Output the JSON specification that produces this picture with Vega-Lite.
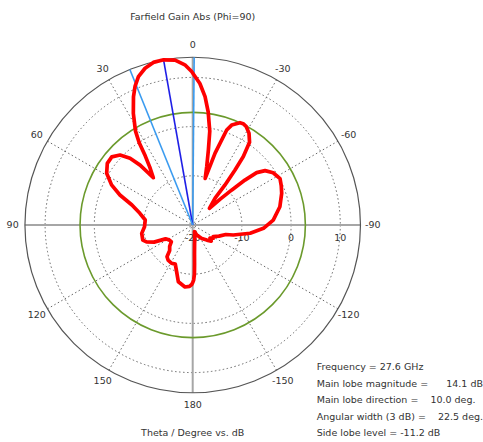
{
  "$schema": "https://vega.github.io/schema/vega-lite/v6.json",
  "width": 483,
  "height": 412,
  "autosize": {"type": "none"},
  "padding": {"top": 30, "left": 0, "right": 0, "bottom": 0},
  "background": "white",
  "title": {"text": "Farfield Gain Abs (Phi=90)", "font": "DejaVu Sans", "fontSize": 9.5, "fontWeight": "normal", "color": "#333333", "anchor": "middle", "dx": -48.8, "offset": 9},
  "config": {"view": {"stroke": null}, "text": {"font": "DejaVu Sans", "fontSize": 9.5, "color": "#333333"}},
  "layer": [
    {
      "data": {"values": [{"db": -10}, {"db": 0}, {"db": 10}]},
      "transform": [{"calculate": "datum.db+20", "as": "r"}],
      "mark": {"type": "point", "shape": "circle", "filled": false, "stroke": "#666666", "strokeWidth": 1, "strokeDash": [1.5, 2.5], "opacity": 1},
      "encoding": {
        "x": {"datum": 0, "type": "quantitative", "scale": {"domain": [-39.167, 59.004], "nice": false, "zero": false}, "axis": null},
        "y": {"datum": 0, "type": "quantitative", "scale": {"domain": [-44.106, 39.634], "nice": false, "zero": false}, "axis": null},
        "size": {"field": "r", "type": "quantitative", "scale": {"type": "pow", "exponent": 2, "domain": [0, 34.1], "range": [0, 112588], "zero": true, "nice": false}, "legend": null}
      }
    },
    {
      "data": {"values": [{"angle": 30}, {"angle": 60}, {"angle": 120}, {"angle": 150}, {"angle": -30}, {"angle": -60}, {"angle": -120}, {"angle": -150}]},
      "transform": [
        {"calculate": "-34.1*sin(datum.angle*PI/180)", "as": "ex"},
        {"calculate": "34.1*cos(datum.angle*PI/180)", "as": "ey"}
      ],
      "mark": {"type": "rule", "stroke": "#666666", "strokeWidth": 1, "strokeDash": [1.5, 2.5]},
      "encoding": {
        "x": {"field": "ex", "type": "quantitative", "scale": {"domain": [-39.167, 59.004], "nice": false, "zero": false}, "axis": null},
        "y": {"field": "ey", "type": "quantitative", "scale": {"domain": [-44.106, 39.634], "nice": false, "zero": false}, "axis": null},
        "x2": {"datum": 0},
        "y2": {"datum": 0}
      }
    },
    {
      "data": {"values": [{"angle": 0}, {"angle": 90}, {"angle": 180}, {"angle": -90}]},
      "transform": [
        {"calculate": "-34.1*sin(datum.angle*PI/180)", "as": "ex"},
        {"calculate": "34.1*cos(datum.angle*PI/180)", "as": "ey"}
      ],
      "mark": {"type": "rule", "stroke": "#a6a6a6", "strokeWidth": 2},
      "encoding": {
        "x": {"field": "ex", "type": "quantitative", "scale": {"domain": [-39.167, 59.004], "nice": false, "zero": false}, "axis": null},
        "y": {"field": "ey", "type": "quantitative", "scale": {"domain": [-44.106, 39.634], "nice": false, "zero": false}, "axis": null},
        "x2": {"datum": 0},
        "y2": {"datum": 0}
      }
    },
    {
      "data": {"values": [{"db": 14.1}]},
      "transform": [{"calculate": "datum.db+20", "as": "r"}],
      "mark": {"type": "point", "shape": "circle", "filled": false, "stroke": "#555555", "strokeWidth": 1.2, "opacity": 1},
      "encoding": {
        "x": {"datum": 0, "type": "quantitative", "scale": {"domain": [-39.167, 59.004], "nice": false, "zero": false}, "axis": null},
        "y": {"datum": 0, "type": "quantitative", "scale": {"domain": [-44.106, 39.634], "nice": false, "zero": false}, "axis": null},
        "size": {"field": "r", "type": "quantitative", "scale": {"type": "pow", "exponent": 2, "domain": [0, 34.1], "range": [0, 112588], "zero": true, "nice": false}, "legend": null}
      }
    },
    {
      "data": {"values": [{"db": 2.9}]},
      "transform": [{"calculate": "datum.db+20", "as": "r"}],
      "mark": {"type": "point", "shape": "circle", "filled": false, "stroke": "#6b9a2c", "strokeWidth": 1.6, "opacity": 1},
      "encoding": {
        "x": {"datum": 0, "type": "quantitative", "scale": {"domain": [-39.167, 59.004], "nice": false, "zero": false}, "axis": null},
        "y": {"datum": 0, "type": "quantitative", "scale": {"domain": [-44.106, 39.634], "nice": false, "zero": false}, "axis": null},
        "size": {"field": "r", "type": "quantitative", "scale": {"type": "pow", "exponent": 2, "domain": [0, 34.1], "range": [0, 112588], "zero": true, "nice": false}, "legend": null}
      }
    },
    {
      "data": {"values": [{"db": -20}, {"db": -10}, {"db": 0}, {"db": 10}]},
      "transform": [{"calculate": "datum.db+20", "as": "r"}],
      "mark": {"type": "text", "dy": 13, "align": "center", "baseline": "middle"},
      "encoding": {
        "x": {"field": "r", "type": "quantitative", "scale": {"domain": [-39.167, 59.004], "nice": false, "zero": false}, "axis": null},
        "y": {"datum": 0, "type": "quantitative", "scale": {"domain": [-44.106, 39.634], "nice": false, "zero": false}, "axis": null},
        "text": {"field": "db", "type": "nominal"}
      }
    },
    {
      "data": {"values": [{"angle": 0}, {"angle": 30}, {"angle": 60}, {"angle": 90}, {"angle": 120}, {"angle": 150}, {"angle": 180}, {"angle": -30}, {"angle": -60}, {"angle": -90}, {"angle": -120}, {"angle": -150}]},
      "transform": [
        {"calculate": "-36.6*sin(datum.angle*PI/180)", "as": "lx"},
        {"calculate": "36.6*cos(datum.angle*PI/180)", "as": "ly"}
      ],
      "mark": {"type": "text", "align": "center", "baseline": "middle"},
      "encoding": {
        "x": {"field": "lx", "type": "quantitative", "scale": {"domain": [-39.167, 59.004], "nice": false, "zero": false}, "axis": null},
        "y": {"field": "ly", "type": "quantitative", "scale": {"domain": [-44.106, 39.634], "nice": false, "zero": false}, "axis": null},
        "text": {"field": "angle", "type": "nominal"}
      }
    },
    {
      "data": {"values": [{"angle": -0.5, "line": "angular width"}, {"angle": 10, "line": "main lobe"}, {"angle": 22.0, "line": "angular width"}]},
      "transform": [
        {"calculate": "-34.1*sin(datum.angle*PI/180)", "as": "ex"},
        {"calculate": "34.1*cos(datum.angle*PI/180)", "as": "ey"}
      ],
      "mark": {"type": "rule", "strokeWidth": 1.6},
      "encoding": {
        "x": {"field": "ex", "type": "quantitative", "scale": {"domain": [-39.167, 59.004], "nice": false, "zero": false}, "axis": null},
        "y": {"field": "ey", "type": "quantitative", "scale": {"domain": [-44.106, 39.634], "nice": false, "zero": false}, "axis": null},
        "x2": {"datum": 0},
        "y2": {"datum": 0},
        "color": {"field": "line", "type": "nominal", "scale": {"domain": ["main lobe", "angular width"], "range": ["#1f1fe6", "#3a9bf0"]}, "legend": null}
      }
    },
    {
      "data": {"values": [
        {"theta": -180, "gain": -8.3}, {"theta": -179, "gain": -8.8}, {"theta": -178, "gain": -10.0}, {"theta": -177.3, "gain": -12.0},
        {"theta": -176.5, "gain": -14.0}, {"theta": -174.5, "gain": -16.0}, {"theta": -171, "gain": -17.3}, {"theta": -165, "gain": -18.6},
        {"theta": -158, "gain": -17.8}, {"theta": -146, "gain": -16.7}, {"theta": -137, "gain": -15.8}, {"theta": -131, "gain": -15.0},
        {"theta": -127, "gain": -15.6}, {"theta": -122, "gain": -15.0}, {"theta": -119.5, "gain": -15.2}, {"theta": -113, "gain": -14.2},
        {"theta": -106, "gain": -13.0}, {"theta": -103.8, "gain": -11.5}, {"theta": -98.2, "gain": -8.2}, {"theta": -92.7, "gain": -5.6},
        {"theta": -86.5, "gain": -3.6}, {"theta": -78.2, "gain": -1.9}, {"theta": -70.4, "gain": -0.8}, {"theta": -66, "gain": -0.3},
        {"theta": -62, "gain": 0.1}, {"theta": -57, "gain": -0.5}, {"theta": -53.1, "gain": -1.6}, {"theta": -50.7, "gain": -3.2},
        {"theta": -49.3, "gain": -6.0}, {"theta": -48.1, "gain": -9.4}, {"theta": -46.7, "gain": -12.4}, {"theta": -45, "gain": -15.2},
        {"theta": -39.9, "gain": -12.9}, {"theta": -38.9, "gain": -9.6}, {"theta": -37.6, "gain": -5.9}, {"theta": -36.5, "gain": -2.7},
        {"theta": -34.5, "gain": 0.4}, {"theta": -31.5, "gain": 1.9}, {"theta": -28.4, "gain": 2.8}, {"theta": -26.5, "gain": 3.0},
        {"theta": -24.8, "gain": 2.9}, {"theta": -21.3, "gain": 1.8}, {"theta": -19.7, "gain": 0.5}, {"theta": -17.3, "gain": -4.7},
        {"theta": -15, "gain": -10.2}, {"theta": -13.5, "gain": -7.8}, {"theta": -11.8, "gain": -4.4}, {"theta": -10.3, "gain": -0.6},
        {"theta": -9.6, "gain": 0.3}, {"theta": -7.8, "gain": 3.2}, {"theta": -5.5, "gain": 6.2}, {"theta": -2.9, "gain": 8.8},
        {"theta": 0.4, "gain": 11.2}, {"theta": 2.8, "gain": 12.6}, {"theta": 6.1, "gain": 13.7}, {"theta": 10, "gain": 14.1},
        {"theta": 13.6, "gain": 14.0}, {"theta": 16.9, "gain": 13.3}, {"theta": 20.1, "gain": 12.1}, {"theta": 22.6, "gain": 10.5},
        {"theta": 24.8, "gain": 8.7}, {"theta": 28, "gain": 5.7}, {"theta": 31.3, "gain": 2.4}, {"theta": 33, "gain": 0.0},
        {"theta": 34.5, "gain": -3.0}, {"theta": 36.5, "gain": -5.3}, {"theta": 39.8, "gain": -7.5}, {"theta": 41.3, "gain": -3.8},
        {"theta": 43.2, "gain": -1.4}, {"theta": 46.1, "gain": 0.5}, {"theta": 49.9, "gain": 1.5}, {"theta": 54.2, "gain": 1.4},
        {"theta": 59, "gain": 0.4}, {"theta": 63.7, "gain": -1.6}, {"theta": 67.6, "gain": -4.0}, {"theta": 71.8, "gain": -7.0},
        {"theta": 77.5, "gain": -9.0}, {"theta": 84, "gain": -10.3}, {"theta": 92, "gain": -10.2}, {"theta": 99.3, "gain": -9.5},
        {"theta": 106.9, "gain": -9.4}, {"theta": 110, "gain": -10.0}, {"theta": 113.9, "gain": -11.4}, {"theta": 117, "gain": -13.8},
        {"theta": 122, "gain": -14.3}, {"theta": 128, "gain": -14.5}, {"theta": 133, "gain": -13.6}, {"theta": 138, "gain": -13.0},
        {"theta": 141, "gain": -11.7}, {"theta": 145, "gain": -11.3}, {"theta": 151, "gain": -11.1}, {"theta": 156, "gain": -11.3},
        {"theta": 161.5, "gain": -9.8}, {"theta": 165.8, "gain": -8.1}, {"theta": 172.9, "gain": -7.3}, {"theta": 177, "gain": -7.5},
        {"theta": 179, "gain": -7.9}, {"theta": 180, "gain": -8.3}
      ]},
      "transform": [
        {"calculate": "-(datum.gain+20)*sin(datum.theta*PI/180)", "as": "px"},
        {"calculate": "(datum.gain+20)*cos(datum.theta*PI/180)", "as": "py"}
      ],
      "mark": {"type": "line", "stroke": "#ff0000", "strokeWidth": 3.7, "strokeJoin": "round", "strokeCap": "round"},
      "encoding": {
        "x": {"field": "px", "type": "quantitative", "scale": {"domain": [-39.167, 59.004], "nice": false, "zero": false}, "axis": null},
        "y": {"field": "py", "type": "quantitative", "scale": {"domain": [-44.106, 39.634], "nice": false, "zero": false}, "axis": null},
        "order": {"field": "theta", "type": "quantitative"}
      }
    },
    {
      "data": {"values": [{"label": "Theta / Degree vs. dB"}]},
      "mark": {"type": "text", "align": "center", "baseline": "middle"},
      "encoding": {
        "x": {"datum": 0, "type": "quantitative", "scale": {"domain": [-39.167, 59.004], "nice": false, "zero": false}, "axis": null},
        "y": {"datum": -42.28, "type": "quantitative", "scale": {"domain": [-44.106, 39.634], "nice": false, "zero": false}, "axis": null},
        "text": {"field": "label", "type": "nominal"}
      }
    },
    {
      "data": {"values": [{"label": "info"}]},
      "mark": {"type": "text", "align": "left", "baseline": "top", "lineHeight": 16.6, "text": ["Frequency = 27.6 GHz", "Main lobe magnitude =\u00a0\u00a0\u00a0\u00a0\u00a0\u00a014.1 dB", "Main lobe direction =\u00a0\u00a0\u00a0\u00a010.0 deg.", "Angular width (3 dB) =\u00a0\u00a0\u00a0\u00a022.5 deg.", "Side lobe level = -11.2 dB"]},
      "encoding": {
        "x": {"datum": 25.2, "type": "quantitative", "scale": {"domain": [-39.167, 59.004], "nice": false, "zero": false}, "axis": null},
        "y": {"datum": -27.85, "type": "quantitative", "scale": {"domain": [-44.106, 39.634], "nice": false, "zero": false}, "axis": null}
      }
    }
  ]
}
